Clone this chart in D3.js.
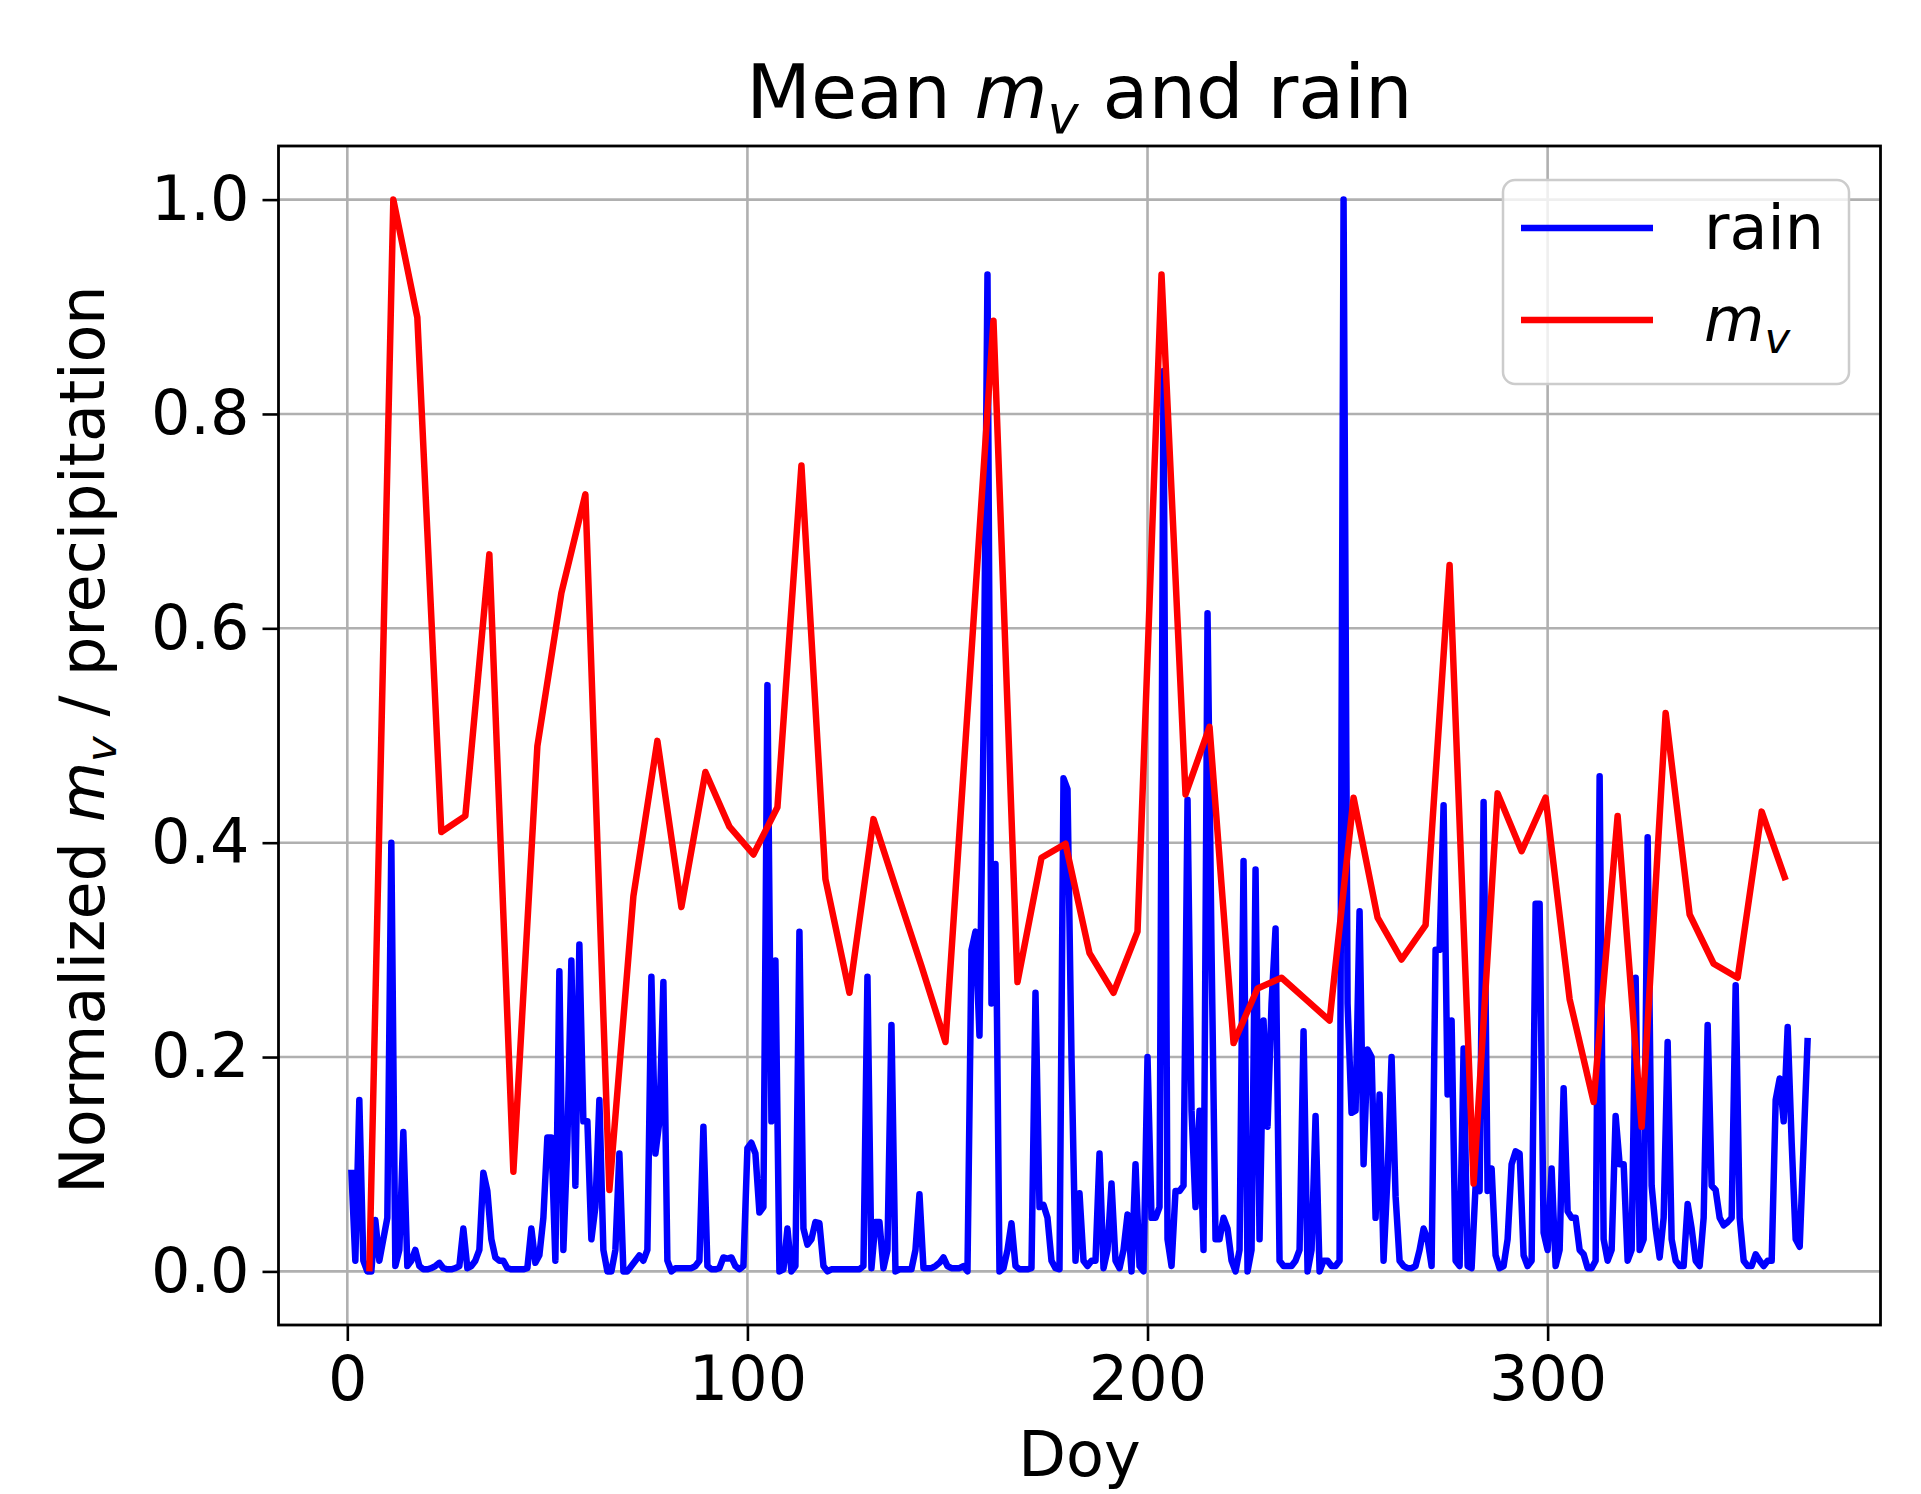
<!DOCTYPE html>
<html>
<head>
<meta charset="utf-8">
<script src="https://cdn.jsdelivr.net/npm/d3@7"></script>
<style>
  html, body { margin: 0; padding: 0; background: #fff; }
  text { font-family: "DejaVu Sans", sans-serif; fill: #000; }
</style>
</head>
<body>
<div id="chart"></div>
<script>
// daily normalized rain, doy 1..365
const rainValues = [
  0.095, 0.01, 0.16, 0.01, 0.0, 0.0, 0.048, 0.01, 0.03, 0.05,
  0.40, 0.005, 0.02, 0.13, 0.005, 0.01, 0.02, 0.005, 0.002, 0.002,
  0.003, 0.005, 0.008, 0.003, 0.002, 0.002, 0.003, 0.005, 0.04, 0.003,
  0.005, 0.01, 0.02, 0.092, 0.075, 0.03, 0.013, 0.01, 0.01, 0.003,
  0.002, 0.002, 0.002, 0.002, 0.003, 0.04, 0.008, 0.015, 0.05, 0.125,
  0.125, 0.01, 0.28, 0.02, 0.12, 0.29, 0.08, 0.305, 0.14, 0.14,
  0.03, 0.06, 0.16, 0.02, 0.0, 0.0, 0.02, 0.11, 0.0, 0.0,
  0.005, 0.01, 0.015, 0.01, 0.02, 0.275, 0.11, 0.14, 0.27, 0.01,
  0.0, 0.003, 0.003, 0.003, 0.003, 0.003, 0.005, 0.01, 0.135, 0.005,
  0.002, 0.002, 0.003, 0.013, 0.012, 0.013, 0.005, 0.002, 0.005, 0.115,
  0.12, 0.11, 0.055, 0.06, 0.547, 0.14, 0.29, 0.0, 0.002, 0.04,
  0.0, 0.005, 0.317, 0.04, 0.025, 0.03, 0.046, 0.045, 0.005, 0.0,
  0.002, 0.002, 0.002, 0.002, 0.002, 0.002, 0.002, 0.002, 0.005, 0.275,
  0.003, 0.046, 0.046, 0.003, 0.02, 0.23, 0.0, 0.002, 0.002, 0.002,
  0.002, 0.02, 0.072, 0.003, 0.003, 0.003, 0.005, 0.008, 0.013, 0.005,
  0.003, 0.003, 0.003, 0.005, 0.0, 0.30, 0.317, 0.22, 0.5, 0.93,
  0.25, 0.38, 0.0, 0.003, 0.02, 0.045, 0.005, 0.002, 0.002, 0.002,
  0.003, 0.26, 0.06, 0.062, 0.05, 0.01, 0.003, 0.002, 0.46, 0.45,
  0.2, 0.01, 0.073, 0.01, 0.005, 0.01, 0.01, 0.11, 0.003, 0.02,
  0.082, 0.01, 0.003, 0.02, 0.053, 0.0, 0.10, 0.005, 0.0, 0.20,
  0.05, 0.05, 0.06, 0.84, 0.03, 0.005, 0.075, 0.075, 0.08, 0.44,
  0.15, 0.06, 0.15, 0.02, 0.614, 0.3, 0.03, 0.03, 0.05, 0.04,
  0.01, 0.0, 0.02, 0.383, 0.0, 0.02, 0.375, 0.03, 0.234, 0.135,
  0.25, 0.32, 0.01, 0.005, 0.005, 0.005, 0.01, 0.02, 0.224, 0.0,
  0.02, 0.145, 0.0, 0.01, 0.01, 0.005, 0.005, 0.01, 1.0, 0.25,
  0.148, 0.15, 0.336, 0.10, 0.207, 0.2, 0.05, 0.165, 0.01, 0.09,
  0.20, 0.07, 0.01, 0.005, 0.003, 0.003, 0.005, 0.02, 0.04, 0.03,
  0.005, 0.30, 0.30, 0.435, 0.165, 0.234, 0.01, 0.005, 0.208, 0.005,
  0.003, 0.08, 0.075, 0.438, 0.075, 0.096, 0.015, 0.003, 0.005, 0.03,
  0.10, 0.112, 0.11, 0.015, 0.005, 0.01, 0.343, 0.343, 0.036, 0.02,
  0.096, 0.005, 0.02, 0.171, 0.056, 0.05, 0.05, 0.02, 0.016, 0.003,
  0.003, 0.01, 0.462, 0.03, 0.01, 0.02, 0.145, 0.10, 0.10, 0.01,
  0.02, 0.274, 0.02, 0.03, 0.405, 0.08, 0.04, 0.013, 0.05, 0.214,
  0.03, 0.01, 0.005, 0.005, 0.063, 0.04, 0.01, 0.005, 0.05, 0.23,
  0.08, 0.076, 0.05, 0.043, 0.046, 0.05, 0.267, 0.05, 0.01, 0.005,
  0.005, 0.016, 0.01, 0.005, 0.01, 0.01, 0.16, 0.18, 0.14, 0.228,
  0.12, 0.03, 0.023, 0.12, 0.218
];
const rainDays = d3.range(1, rainValues.length + 1);

// mean soil moisture, one value per satellite pass
const mvDays = [
  5.5, 11.5, 17.5, 23.5, 29.5, 35.5, 41.5, 47.5, 53.5, 59.5,
  65.5, 71.5, 77.5, 83.5, 89.5, 95.5, 101.5, 107.5, 113.5, 119.5,
  125.5, 131.5, 137.5, 143.5, 149.5, 155.5, 161.5, 167.5, 173.5, 179.5,
  185.5, 191.5, 197.5, 203.5, 209.5, 215.5, 221.5, 227.5, 233.5, 239.5,
  245.5, 251.5, 257.5, 263.5, 269.5, 275.5, 281.5, 287.5, 293.5, 299.5,
  305.5, 311.5, 317.5, 323.5, 329.5, 335.5, 341.5, 347.5, 353.5, 359.5
];
const mvValues = [
  0.0, 1.0, 0.89, 0.41, 0.425, 0.669, 0.093, 0.49, 0.633, 0.725,
  0.076, 0.35, 0.495, 0.34, 0.466, 0.415, 0.389, 0.433, 0.752, 0.366,
  0.26, 0.422, 0.353, 0.285, 0.214, 0.55, 0.887, 0.27, 0.386, 0.399,
  0.297, 0.26, 0.317, 0.93, 0.445, 0.508, 0.213, 0.264, 0.274, 0.254,
  0.234, 0.442, 0.33, 0.291, 0.323, 0.659, 0.082, 0.446, 0.392, 0.442,
  0.254, 0.158, 0.425, 0.135, 0.521, 0.333, 0.287, 0.274, 0.429, 0.365
];

const xTicks = [0, 100, 200, 300];
const yTicks = [0.0, 0.2, 0.4, 0.6, 0.8, 1.0];

const W = 1921, H = 1494;
const plot = { left: 278.5, right: 1880.5, top: 146, bottom: 1325 };
const fontSize = 62;
const titleSize = 75;
const lineWidth = 6.5;

const svg = d3.select("#chart").append("svg")
  .attr("width", W)
  .attr("height", H)
  .attr("viewBox", `0 0 ${W} ${H}`);

svg.append("rect").attr("width", W).attr("height", H).attr("fill", "#fff");

// matplotlib style 5% margins on both axes
const xMin = d3.min(rainDays), xMax = d3.max(rainDays);
const xPad = (xMax - xMin) * 0.05;
const x = d3.scaleLinear()
  .domain([xMin - xPad, xMax + xPad])
  .range([plot.left, plot.right]);
const y = d3.scaleLinear()
  .domain([-0.05, 1.05])
  .range([plot.bottom, plot.top]);

svg.append("clipPath").attr("id", "clip")
  .append("rect")
  .attr("x", plot.left).attr("y", plot.top)
  .attr("width", plot.right - plot.left)
  .attr("height", plot.bottom - plot.top);

// grid
const grid = svg.append("g").attr("stroke", "#b0b0b0").attr("stroke-width", 2.6);
grid.selectAll("line.gx").data(xTicks).enter().append("line")
  .attr("x1", d => x(d)).attr("x2", d => x(d))
  .attr("y1", plot.top).attr("y2", plot.bottom);
grid.selectAll("line.gy").data(yTicks).enter().append("line")
  .attr("x1", plot.left).attr("x2", plot.right)
  .attr("y1", d => y(d)).attr("y2", d => y(d));

// data lines
const g = svg.append("g").attr("clip-path", "url(#clip)");

const rainLine = d3.line()
  .x((d, i) => x(rainDays[i]))
  .y(d => y(d));
g.append("path")
  .datum(rainValues)
  .attr("d", rainLine)
  .attr("fill", "none")
  .attr("stroke", "#0000ff")
  .attr("stroke-width", lineWidth)
  .attr("stroke-linejoin", "round");

const mvLine = d3.line()
  .x((d, i) => x(mvDays[i]))
  .y(d => y(d));
g.append("path")
  .datum(mvValues)
  .attr("d", mvLine)
  .attr("fill", "none")
  .attr("stroke", "#ff0000")
  .attr("stroke-width", lineWidth)
  .attr("stroke-linejoin", "round");

// axes
const xAxis = svg.append("g")
  .attr("transform", `translate(0,${plot.bottom})`)
  .call(d3.axisBottom(x).tickValues(xTicks).tickFormat(d3.format("d"))
    .tickSize(16).tickPadding(15));
const yAxis = svg.append("g")
  .attr("transform", `translate(${plot.left},0)`)
  .call(d3.axisLeft(y).tickValues(yTicks).tickFormat(d3.format(".1f"))
    .tickSize(16).tickPadding(13));
[xAxis, yAxis].forEach(a => {
  a.select(".domain").remove();
  a.selectAll(".tick line").attr("stroke", "#000").attr("stroke-width", 2.6);
  a.selectAll(".tick text")
    .attr("font-family", "DejaVu Sans")
    .attr("font-size", fontSize)
    .attr("fill", "#000");
});

// frame
svg.append("rect")
  .attr("x", plot.left).attr("y", plot.top)
  .attr("width", plot.right - plot.left)
  .attr("height", plot.bottom - plot.top)
  .attr("fill", "none")
  .attr("stroke", "#000")
  .attr("stroke-width", 2.8);

// helper for the italic m with subscript v
function addMv(sel, size) {
  sel.append("tspan").attr("font-style", "italic").text("m");
  sel.append("tspan").attr("font-style", "italic")
    .attr("font-size", size * 0.7).attr("dy", size * 0.2).text("v");
}

// title
const title = svg.append("text")
  .attr("x", (plot.left + plot.right) / 2)
  .attr("y", 118)
  .attr("text-anchor", "middle")
  .attr("font-size", titleSize);
title.append("tspan").text("Mean ");
addMv(title, titleSize);
title.append("tspan").attr("dy", -titleSize * 0.2).text(" and rain");

// axis labels
svg.append("text")
  .attr("x", (plot.left + plot.right) / 2)
  .attr("y", 1476)
  .attr("text-anchor", "middle")
  .attr("font-size", fontSize)
  .text("Doy");

const yl = svg.append("text")
  .attr("transform", `translate(104,${(plot.top + plot.bottom) / 2 + 4}) rotate(-90)`)
  .attr("text-anchor", "middle")
  .attr("font-size", fontSize);
yl.append("tspan").text("Normalized ");
addMv(yl, fontSize);
yl.append("tspan").attr("dy", -fontSize * 0.2).text(" / precipitation");

// legend
const legend = svg.append("g");
legend.append("rect")
  .attr("x", 1503).attr("y", 180)
  .attr("width", 346).attr("height", 204)
  .attr("rx", 12)
  .attr("fill", "#fff").attr("fill-opacity", 0.8)
  .attr("stroke", "#cccccc").attr("stroke-width", 2.5);

const legendItems = [
  { key: "rain", color: "#0000ff", y: 228 },
  { key: "mv", color: "#ff0000", y: 320 }
];
legendItems.forEach(item => {
  legend.append("line")
    .attr("x1", 1521).attr("x2", 1653)
    .attr("y1", item.y).attr("y2", item.y)
    .attr("stroke", item.color)
    .attr("stroke-width", lineWidth);
  const t = legend.append("text")
    .attr("x", 1704)
    .attr("y", item.y + 21)
    .attr("font-size", fontSize);
  if (item.key === "rain") t.text("rain");
  else addMv(t, fontSize);
});
</script>
</body>
</html>
